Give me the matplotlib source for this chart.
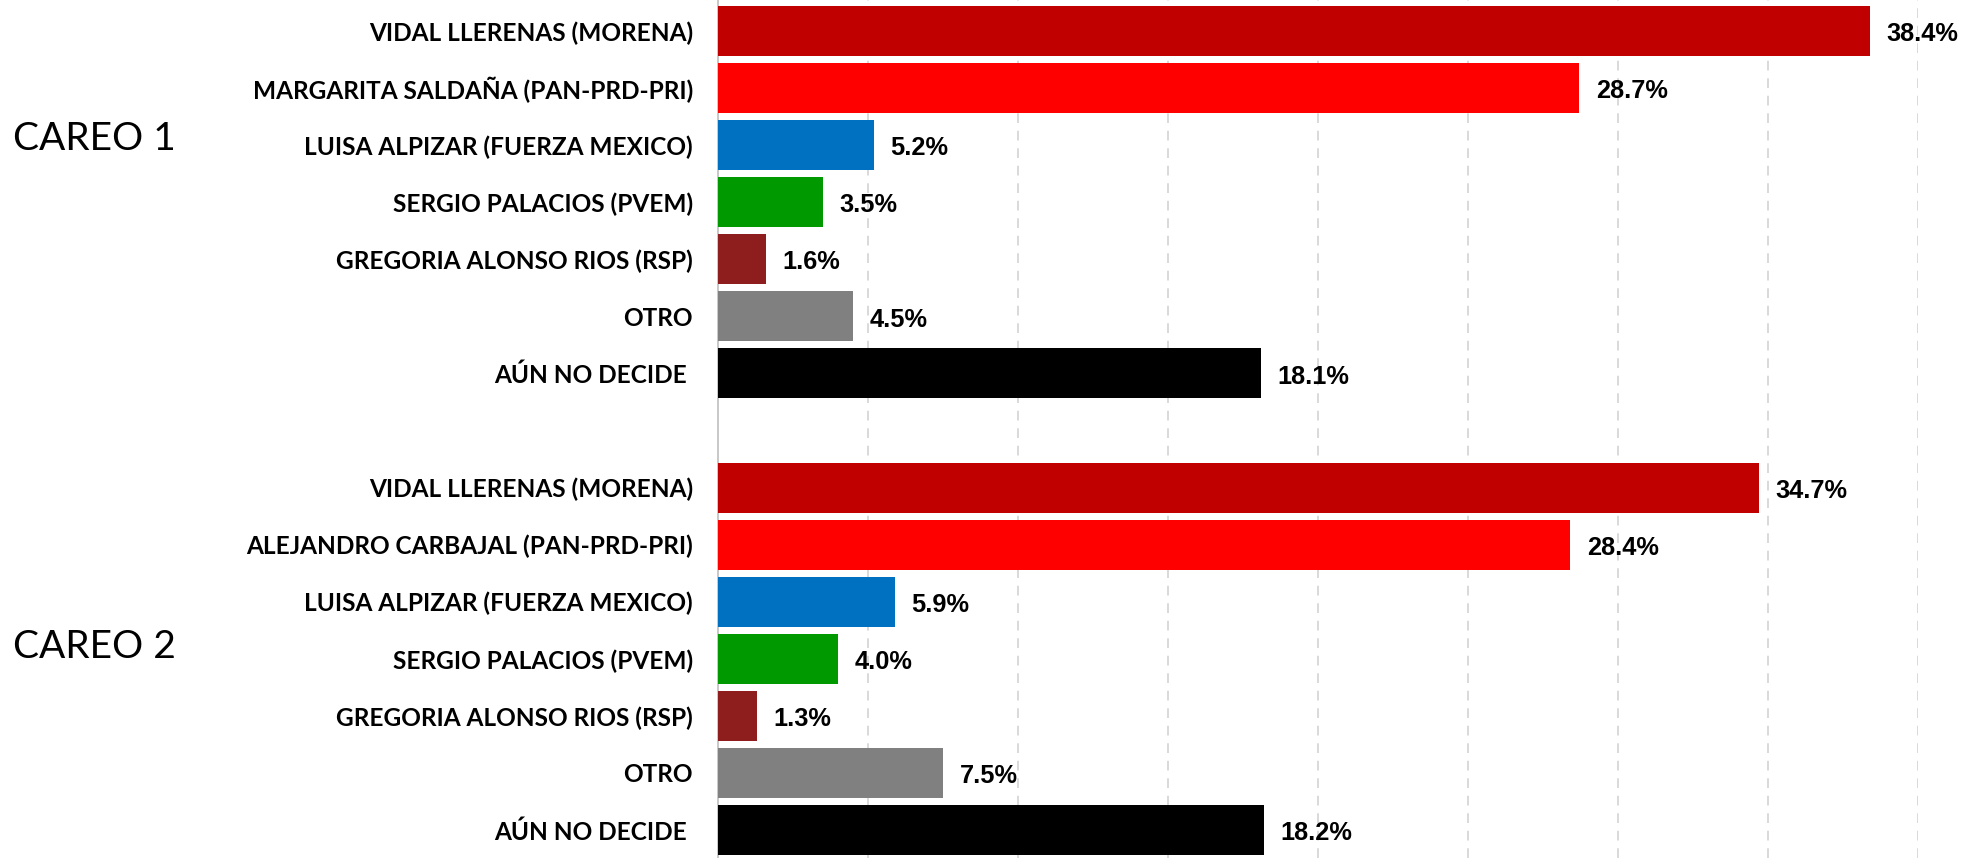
import matplotlib
matplotlib.use("Agg")
import matplotlib.pyplot as plt
import numpy as np

# careo 1
labels1 = ["VIDAL LLERENAS (MORENA)", "MARGARITA SALDAÑA (PAN-PRD-PRI)",
           "LUISA ALPIZAR (FUERZA MEXICO)", "SERGIO PALACIOS (PVEM)",
           "GREGORIA ALONSO RIOS (RSP)", "OTRO", "AÚN NO DECIDE "]
values1 = [38.4, 28.7, 5.2, 3.5, 1.6, 4.5, 18.1]

# careo 2
labels2 = ["VIDAL LLERENAS (MORENA)", "ALEJANDRO CARBAJAL (PAN-PRD-PRI)",
           "LUISA ALPIZAR (FUERZA MEXICO)", "SERGIO PALACIOS (PVEM)",
           "GREGORIA ALONSO RIOS (RSP)", "OTRO", "AÚN NO DECIDE "]
values2 = [34.7, 28.4, 5.9, 4.0, 1.3, 7.5, 18.2]

group_titles = ["CAREO 1", "CAREO 2"]
party_colors = ["#C00000", "#FF0000", "#0070C0", "#009900", "#8E1E1E", "#808080", "#000000"]

W, H = 1978, 858
fig = plt.figure(figsize=(W / 100, H / 100), dpi=100)
ax = fig.add_axes([718 / W, 0, 1200 / W, 1])

# slot positions, one empty slot between the two groups
pos1 = np.arange(len(values1))
pos2 = np.arange(len(values2)) + len(values1) + 1
positions = np.concatenate([pos1, pos2])
values = values1 + values2
labels = labels1 + labels2
colors = party_colors + party_colors

ax.barh(positions, values, height=0.876, color=colors, zorder=3)

ax.set_xlim(0, 40)
ax.set_ylim(14.49, -0.543)

ax.set_xticks(np.arange(5, 45, 5))
ax.xaxis.grid(True, color="#D9D9D9", linestyle=(0, (5, 4)), linewidth=1.4, zorder=0)
ax.tick_params(axis="x", length=0, labelbottom=False)

ax.set_yticks(positions)
ax.set_yticklabels(labels, fontsize=17.6, fontweight="bold",
                   family=["Lato", "DejaVu Sans"])
ax.tick_params(axis="y", length=0, pad=18)

for s in ["top", "right", "bottom"]:
    ax.spines[s].set_visible(False)
ax.spines["left"].set_color("#BFBFBF")
ax.spines["left"].set_linewidth(1.2)

for y, v in zip(positions, values):
    ax.annotate(f"{v:.1f}%", xy=(v, y), xytext=(12, -7.3), textcoords="offset points",
                ha="left", va="baseline", fontsize=18.3, fontweight="bold",
                family=["Liberation Sans", "DejaVu Sans"], color="black")

# group titles
fig.text(13 / W, 1 - 149.5 / H, group_titles[0], fontsize=28, va="baseline",
         ha="left", family=["Lato", "DejaVu Sans"])
fig.text(13 / W, 1 - 658 / H, group_titles[1], fontsize=28, va="baseline",
         ha="left", family=["Lato", "DejaVu Sans"])

fig.savefig("out.png", dpi=100)
